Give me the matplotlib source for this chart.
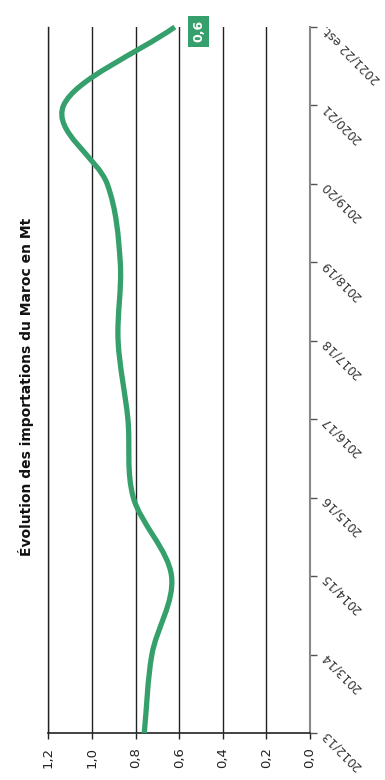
import matplotlib
matplotlib.use("Agg")
import matplotlib.pyplot as plt
from matplotlib.path import Path
from matplotlib.patches import PathPatch
import numpy as np

# ---- data ----
categories = ["2012/13", "2013/14", "2014/15", "2015/16", "2016/17",
              "2017/18", "2018/19", "2019/20", "2020/21", "2021/22 est."]
imports_mt = [0.76, 0.725, 0.635, 0.81, 0.835, 0.88, 0.87, 0.93, 1.13, 0.62]
value_ticks = [0.0, 0.2, 0.4, 0.6, 0.8, 1.0, 1.2]
value_tick_labels = ["0,0", "0,2", "0,4", "0,6", "0,8", "1,0", "1,2"]
last_label = "0,6"
title = "Évolution des importations du Maroc en Mt"

GREEN = "#35a06b"

plt.rcParams["font.family"] = ["DejaVu Sans"]

fig = plt.figure(figsize=(3.85, 7.8), dpi=100)
ax = fig.add_axes([48.3 / 385, 47 / 780, (310 - 48.3) / 385, (733 - 27) / 780])

n = len(categories)
pos = np.arange(n)
ax.set_xlim(1.2, 0.0)
ax.set_ylim(0, n - 1)

# smooth curve (x = value, y = category position) using cubic Bezier segments
v = np.asarray(imports_mt, dtype=float)
m = np.empty(n)
m[1:-1] = (v[2:] - v[:-2]) / 2.0
m[0] = v[1] - v[0]
m[-1] = v[-1] - v[-2]
verts = [(v[0], pos[0])]
codes = [Path.MOVETO]
for i in range(n - 1):
    verts += [(v[i] + m[i] / 3, pos[i] + 1 / 3),
              (v[i + 1] - m[i + 1] / 3, pos[i + 1] - 1 / 3),
              (v[i + 1], pos[i + 1])]
    codes += [Path.CURVE4] * 3
ax.add_patch(PathPatch(Path(verts, codes), fc="none", ec=GREEN, lw=3.8,
                       capstyle="butt", zorder=5, clip_on=False))

# grid & spines
ax.set_xticks(value_ticks)
ax.set_xticklabels(value_tick_labels, rotation=90, ha="center", va="top",
                   fontsize=9.5, color="#222222")
ax.grid(axis="x", color="#222222", lw=1.0)
ax.grid(axis="y", visible=False)
ax.spines["top"].set_visible(False)
ax.spines["left"].set_color("#222222")
ax.spines["left"].set_linewidth(1.0)
ax.spines["bottom"].set_color("#222222")
ax.spines["bottom"].set_linewidth(1.2)
ax.spines["right"].set_color("#888888")
ax.spines["right"].set_linewidth(1.5)
ax.tick_params(axis="x", direction="out", length=4, width=1, color="#222222", pad=6)

ax.set_yticks(pos)
ax.set_yticklabels(categories, fontsize=8.8, color="#333333")
ax.tick_params(axis="y", left=False, right=True, labelleft=False, labelright=True,
               direction="out", length=5, width=1, color="#555555", pad=5)
for lab in ax.get_yticklabels():
    lab.set_rotation(135)
    lab.set_rotation_mode("anchor")
    lab.set_ha("right")
    lab.set_va("center")

# value label on last point
ax.annotate(last_label, xy=(imports_mt[-1], pos[-1]), xytext=(17, -3),
            textcoords="offset points", rotation=90, color="white",
            fontweight="bold", fontsize=9, ha="center", va="center",
            bbox=dict(boxstyle="square,pad=0.35", fc=GREEN, ec="none"),
            annotation_clip=False, zorder=6)

fig.text(26 / 385, 1 - 387 / 780, title, rotation=90, ha="center", va="center",
         fontweight="bold", fontsize=10, color="#111111")

fig.savefig("out.png", dpi=100)
